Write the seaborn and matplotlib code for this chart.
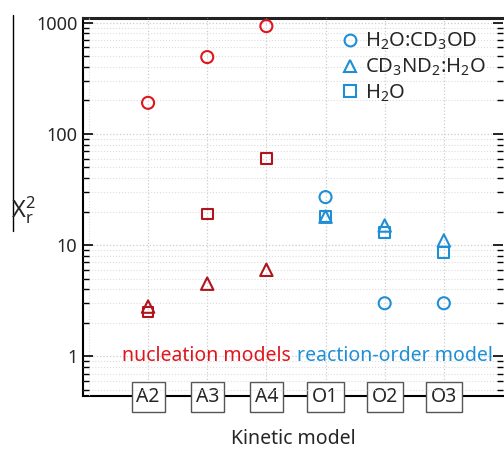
import matplotlib
matplotlib.use("Agg")
import pandas as pd
import matplotlib.pyplot as plt
import seaborn as sns
from matplotlib.lines import Line2D
from matplotlib.ticker import LogLocator, NullFormatter, FixedLocator

# values
models = ["A2", "A3", "A4", "O1", "O2", "O3"]
h2o_cd3od = [190, 490, 930, 27, 3.0, 3.0]
cd3nd2_h2o = [2.8, 4.5, 6.0, 18, 15, 11]
h2o_only = [2.5, 19, 60, 18, 13, 8.6]
legend_labels = [r"H$_2$O:CD$_3$OD", r"CD$_3$ND$_2$:H$_2$O", r"H$_2$O"]

RED = "#e0161e"
DARKRED = "#b0141c"
BLUE = "#1e8fd5"

sns.set_style("white")
plt.rcParams["font.family"] = ["Noto Sans", "DejaVu Sans"]
plt.rcParams["mathtext.fontset"] = "custom"
plt.rcParams["mathtext.rm"] = "Noto Sans"
plt.rcParams["mathtext.it"] = "Noto Sans"
plt.rcParams["mathtext.default"] = "regular"

fig = plt.figure(figsize=(5.04, 4.49), dpi=100)
ax = fig.add_axes([83 / 504, 1 - 396 / 449, 420 / 504, 378 / 449])

df = pd.DataFrame({"model": models, "circ": h2o_cd3od, "tri": cd3nd2_h2o, "sq": h2o_only})
df["pos"] = range(len(models))

circ_cols = [RED] * 3 + [BLUE] * 3
other_cols = [DARKRED] * 3 + [BLUE] * 3

sns.scatterplot(data=df, x="pos", y="circ", marker="o", s=75, facecolor="none",
                edgecolor=circ_cols, linewidth=1.5, ax=ax, zorder=3)
sns.scatterplot(data=df, x="pos", y="sq", marker="s", s=60, facecolor="none",
                edgecolor=other_cols, linewidth=1.5, ax=ax, zorder=3)
sns.scatterplot(data=df, x="pos", y="tri", marker="^", s=80, facecolor="none",
                edgecolor=other_cols, linewidth=1.5, ax=ax, zorder=3)

ax.set_yscale("log")
ax.set_ylim(0.44, 1100)
ax.set_xlim(-1.1, 6.0)

ax.yaxis.set_minor_locator(LogLocator(base=10, subs=range(2, 10), numticks=20))
ax.yaxis.set_minor_formatter(NullFormatter())
ax.set_yticks([1, 10, 100, 1000])
ax.set_yticklabels(["1", "10", "100", "1000"])
ax.tick_params(axis="y", which="major", direction="in", length=7, width=1.2,
               left=True, right=True, labelsize=13, pad=4, color="black")
ax.tick_params(axis="y", which="minor", direction="in", length=4, width=1.0,
               left=True, right=True, color="black")

ax.set_xticks(range(len(models)))
ax.set_xticklabels(models)
ax.xaxis.set_minor_locator(FixedLocator([-1, 6]))
ax.tick_params(axis="x", which="both", length=0, labelsize=14, pad=-6.5)
for lab in ax.get_xticklabels():
    lab.set_bbox(dict(boxstyle="square,pad=0.25", fc="white", ec="#555555", lw=1.0))

ax.grid(True, which="major", axis="both", color="#cccccc", linestyle=":", linewidth=0.9)
ax.grid(True, which="minor", axis="both", color="#dddddd", linestyle=":", linewidth=0.8)
ax.set_axisbelow(False)

for side in ["left", "bottom"]:
    ax.spines[side].set_linewidth(1.5)
    ax.spines[side].set_color("black")
ax.spines["top"].set_linewidth(2.2)
ax.spines["top"].set_color("#222222")
ax.spines["right"].set_visible(False)

ax.set_xlabel("Kinetic model", fontsize=14)
ax.xaxis.set_label_coords(0.5, -0.088)
ax.set_ylabel("")

ax.text(2.42, 1.0, "nucleation models", color=RED, fontsize=14, ha="right", va="center")
ax.text(2.52, 1.0, "reaction-order model", color=BLUE, fontsize=14, ha="left", va="center")

handles = [
    Line2D([], [], linestyle="none", marker="o", markersize=8.5, mfc="none", mec=BLUE, mew=1.5),
    Line2D([], [], linestyle="none", marker="^", markersize=9, mfc="none", mec=BLUE, mew=1.5),
    Line2D([], [], linestyle="none", marker="s", markersize=8, mfc="none", mec=BLUE, mew=1.5),
]
ax.legend(handles, legend_labels, loc="upper left", bbox_to_anchor=(340 / 504, 1 - 31 / 449),
          bbox_transform=fig.transFigure, frameon=False, fontsize=14.5, handlelength=1.0,
          handletextpad=0.25, labelspacing=0.22, borderpad=0, borderaxespad=0)

fig.text(11 / 504, 1 - 210 / 449, r"X$^2_r$", fontsize=17, ha="left", va="center")
fig.add_artist(Line2D([13 / 504, 13 / 504], [1 - 15 / 449, 1 - 231 / 449],
                      color="black", linewidth=1.0))

fig.savefig("out.png", dpi=100)
